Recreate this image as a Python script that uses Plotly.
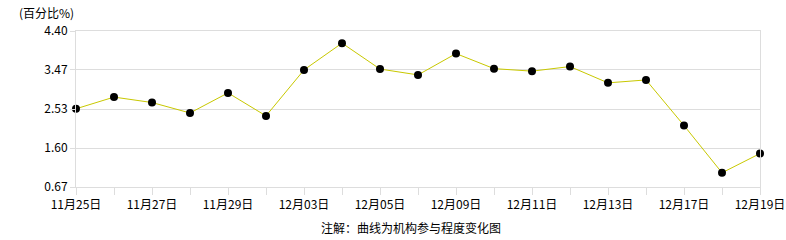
import plotly.graph_objects as go

dates = ["11月25日", "11月26日", "11月27日", "11月28日", "11月29日", "12月02日", "12月03日",
         "12月04日", "12月05日", "12月06日", "12月09日", "12月10日", "12月11日", "12月12日",
         "12月13日", "12月16日", "12月17日", "12月18日", "12月19日"]
values = [2.54, 2.82, 2.69, 2.44, 2.92, 2.37, 3.47, 4.11, 3.49, 3.35, 3.86, 3.50, 3.44,
          3.55, 3.16, 3.23, 2.14, 1.01, 1.47]
y_ticks = [0.67, 1.60, 2.53, 3.47, 4.40]
y_ticktext = ["0.67", "1.60", "2.53", "3.47", "4.40"]
x_ticktext = [d if i % 2 == 0 else "" for i, d in enumerate(dates)]

font = "Noto Sans CJK SC, sans-serif"

fig = go.Figure()
fig.add_trace(go.Scatter(
    x=dates, y=values, mode="lines+markers",
    line=dict(color="#c8c800", width=1),
    marker=dict(color="#000000", size=8),
    cliponaxis=False, showlegend=False,
))

fig.update_layout(
    width=786, height=240,
    margin=dict(l=76, r=26, t=31, b=53),
    paper_bgcolor="white", plot_bgcolor="white",
    font=dict(family=font, size=12, color="#000000"),
    xaxis=dict(
        type="category", range=[0, len(dates) - 1], automargin=False,
        tickmode="array", tickvals=dates, ticktext=x_ticktext,
        ticks="outside", ticklen=7, tickcolor="#dddddd", tickwidth=1,
        showgrid=False, showline=True, linecolor="#dddddd", linewidth=1,
        mirror=True, zeroline=False,
        tickfont=dict(family=font, size=12, color="#000000"), tickangle=0,
    ),
    yaxis=dict(
        range=[0.67, 4.40], automargin=False,
        tickmode="array", tickvals=y_ticks, ticktext=y_ticktext,
        ticks="outside", ticklen=5, tickcolor="#dddddd",
        showgrid=True, gridcolor="#dddddd", gridwidth=1,
        showline=True, linecolor="#dddddd", linewidth=1, mirror=True,
        zeroline=False,
        tickfont=dict(family=font, size=12, color="#000000"),
    ),
    annotations=[
        dict(text="(百分比%)", xref="paper", yref="paper", x=-(76 - 17) / 684, y=1 + 19/156,
             xanchor="left", yanchor="middle", showarrow=False,
             font=dict(family=font, size=12, color="#000000")),
        dict(text="注解：曲线为机构参与程度变化图", xref="paper", yref="paper",
             x=(411 - 76) / 684, y=-(227 - 187) / 156,
             xanchor="center", yanchor="middle", showarrow=False,
             font=dict(family=font, size=12, color="#000000")),
    ],
)

fig.write_html("out.html")
